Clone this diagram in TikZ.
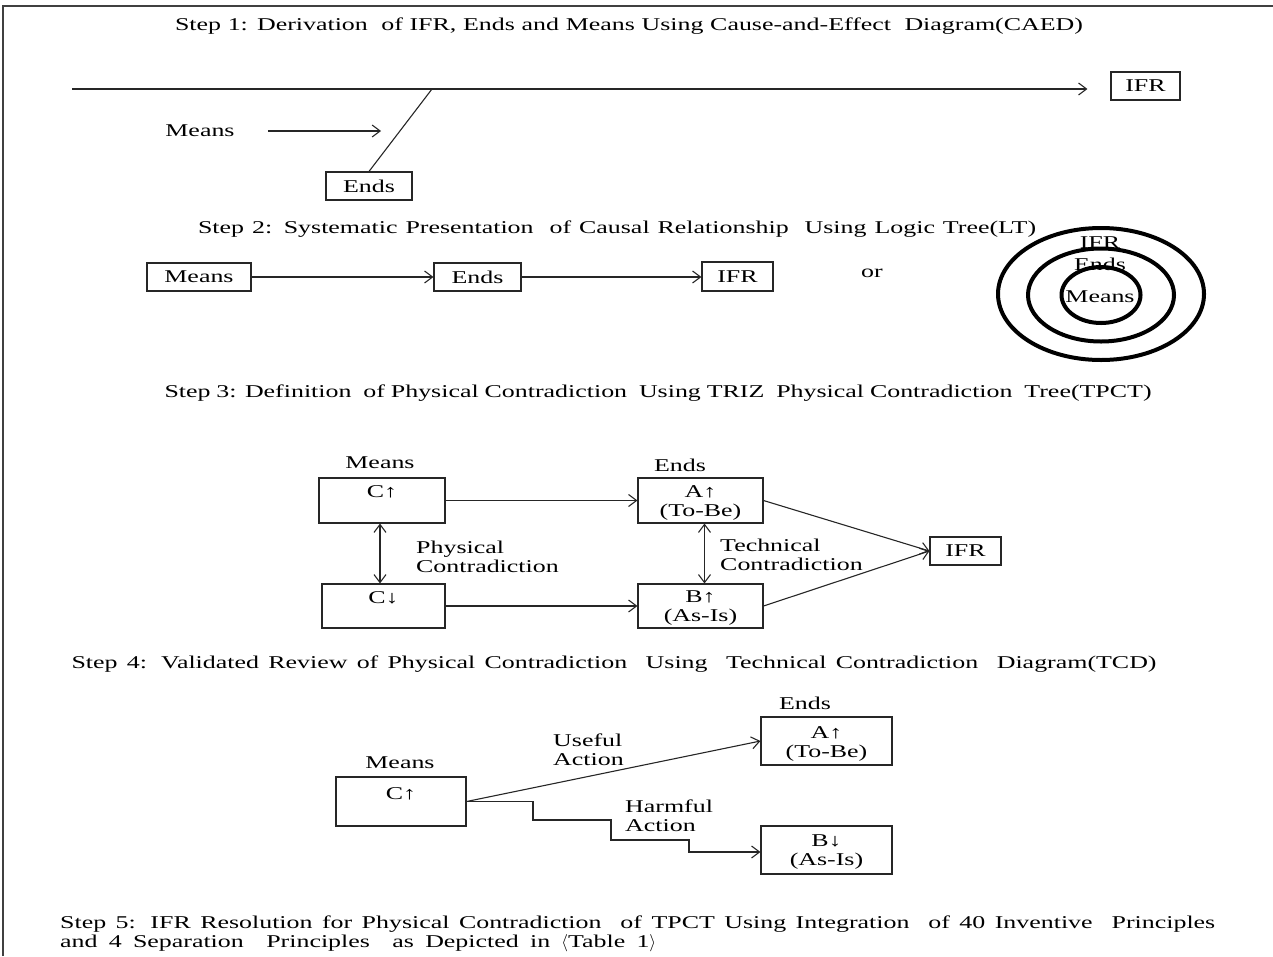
\documentclass[tikz,border=0pt]{standalone}
\usepackage{fontspec}
\setmainfont{Liberation Serif}[FakeStretch=1.44]
\usetikzlibrary{arrows.meta,shapes.geometric}
\newcommand\spreadto[2]{\makebox[#1][s]{#2}}
\begin{document}
\begin{tikzpicture}[x=1pt,y=-1pt,
  every node/.style={font=\fontsize{18}{19}\selectfont, inner sep=0pt},
  ln/.style={line width=1.1pt, draw=black!85},
  arr/.style={ln, -{Straight Barb[length=8pt,width=12pt,line width=1.1pt]}},
  darr/.style={ln, {Straight Barb[length=8pt,width=12pt,line width=1.1pt]}-{Straight Barb[length=8pt,width=12pt,line width=1.1pt]}},
  box/.style={draw=black!85, line width=1.1pt, align=center},
  txt2/.style={align=center},
  ring/.style={draw=black, line width=4pt, ellipse, inner sep=0pt},
  lbl/.style={align=left, anchor=west}
]
\useasboundingbox (0,0) rectangle (1273,956);
\coordinate (fr0) at (3,956);
\coordinate (fr1) at (3,6);
\coordinate (fr2) at (1273,6);
\draw[line width=1.5pt, draw=black!75] (fr0) -- (fr1) -- (fr2);

% ---------- Step 1
\node (t1) at (629,26) {\spreadto{908pt}{Step 1: Derivation \ of IFR, Ends and Means Using Cause-and-Effect \ Diagram(CAED)}};
\node[box, minimum width=69pt, minimum height=28pt] (ifr1) at (1145.5,86) {IFR};
\node[box, minimum width=86pt, minimum height=28pt] (ends1) at (369,186) {Ends};
\node (means1) at (200,131) {Means};
\coordinate (spine) at (72,89);
\coordinate (branch) at (432,89);
\coordinate (mtip) at (381,131);
\draw[arr] (spine) -- ([xshift=-23pt]ifr1.west |- spine);
\draw[ln] (branch) -- (ends1.north);
\draw[arr] ([xshift=33pt]means1.east) -- (mtip);

% ---------- Step 2
\node (t2) at (617,229) {\spreadto{838pt}{Step 2: Systematic Presentation \ of Causal Relationship \ Using Logic Tree(LT)}};
\node[box, minimum width=104pt, minimum height=28pt] (means2) at (199,277) {Means};
\node[box, minimum width=87pt, minimum height=28pt] (ends2) at (477.5,277) {Ends};
\node[box, minimum width=71pt, minimum height=29pt] (ifr2) at (737.5,276.5) {IFR};
\draw[arr] (means2.east) -- (ends2.west);
\draw[arr] (ends2.east) -- (ifr2.west |- ends2.east);
\node (or) at (872,273) {or};
\node[ring, minimum width=206pt, minimum height=132pt] (outer) at (1101,294) {};
\node[ring, minimum width=146pt, minimum height=93pt] (middle) at (1101,295) {};
\node[ring, minimum width=79pt, minimum height=56pt] (inner) at (1101,295) {};
\node (cifr) at (1100,243) {IFR};
\node (cends) at (1100,264) {Ends};
\node (cmeans) at (1100,297) {Means};

% ---------- Step 3
\node (t3) at (658,393) {\spreadto{987pt}{Step 3: Definition \ of Physical Contradiction \ Using TRIZ \ Physical Contradiction \ Tree(TPCT)}};
\node (m3) at (380,463) {Means};
\node (e3) at (680,465) {Ends};
\node[box, minimum width=126pt, minimum height=45pt] (c1) at (382,500.5) {};
\node[box, minimum width=123pt, minimum height=44pt] (c2) at (383.5,606) {};
\node[box, minimum width=125pt, minimum height=45pt] (a3) at (700.5,500.5) {};
\node[box, minimum width=125pt, minimum height=44pt] (b3) at (700.5,606) {};
\node (c1t) at ([yshift=-14pt]c1.north) {C↑};
\node (c2t) at ([yshift=-14pt]c2.north) {C↓};
\node[txt2] (a3t) at ([yshift=-2.5pt]a3.center) {A↑\\(To-Be)};
\node[txt2] (b3t) at ([yshift=-2.5pt]b3.center) {B↑\\(As-Is)};
\node[box, minimum width=71pt, minimum height=28pt] (ifr3) at (965.5,551) {IFR};
\draw[arr] (c1.east) -- (a3.west);
\draw[arr] (c2.east) -- (b3.west);
\draw[darr] ([xshift=-2pt]c1.south) -- ([xshift=-2pt]c1.south |- c2.north);
\draw[darr] ([xshift=4pt]a3.south) -- ([xshift=4pt]b3.north);
\draw[arr] (a3.east) -- (ifr3.west);
\draw[arr] (b3.east) -- (ifr3.west);
\node[lbl] (pc) at (416,557) {Physical\\Contradiction};
\node[lbl] (tc) at (720,555) {Technical\\Contradiction};

% ---------- Step 4
\node (t4) at (614,664) {\spreadto{1085pt}{Step 4: Validated Review of Physical Contradiction \ Using \ Technical Contradiction \ Diagram(TCD)}};
\node (e4) at (805,703) {Ends};
\node (m4) at (400,763) {Means};
\node[box, minimum width=131pt, minimum height=48pt] (a4) at (826.5,741) {};
\node[box, minimum width=131pt, minimum height=48pt] (b4) at (826.5,850) {};
\node[box, minimum width=130pt, minimum height=49pt] (c4) at (401,801.5) {};
\node[txt2] (a4t) at ([yshift=-2.5pt]a4.center) {A↑\\(To-Be)};
\node[txt2] (b4t) at ([yshift=-2.5pt]b4.center) {B↓\\(As-Is)};
\node (c4t) at ([yshift=-17pt]c4.north) {C↑};
\coordinate (h1) at (533,820);
\coordinate (h2) at (611,840);
\coordinate (h3) at (689,852);
\draw[arr] (c4.east) -- (a4.west);
\draw[arr] (c4.east) -| (h1) -| (h2) -| (h3) -- (b4.west |- h3);
\node[lbl] (ua) at (553,750) {Useful\\Action};
\node[lbl] (ha) at (625,816) {Harmful\\Action};

% ---------- Step 5
\node[anchor=west] (t5a) at (60,924) {\spreadto{1155pt}{Step 5: IFR Resolution for Physical Contradiction \ of TPCT Using Integration \ of 40 Inventive \ Principles}};
\node[anchor=west] (t5b) at (60,943) {\spreadto{596pt}{and 4 Separation \ Principles \ as Depicted in $\langle$Table 1$\rangle$}};
\end{tikzpicture}
\end{document}
